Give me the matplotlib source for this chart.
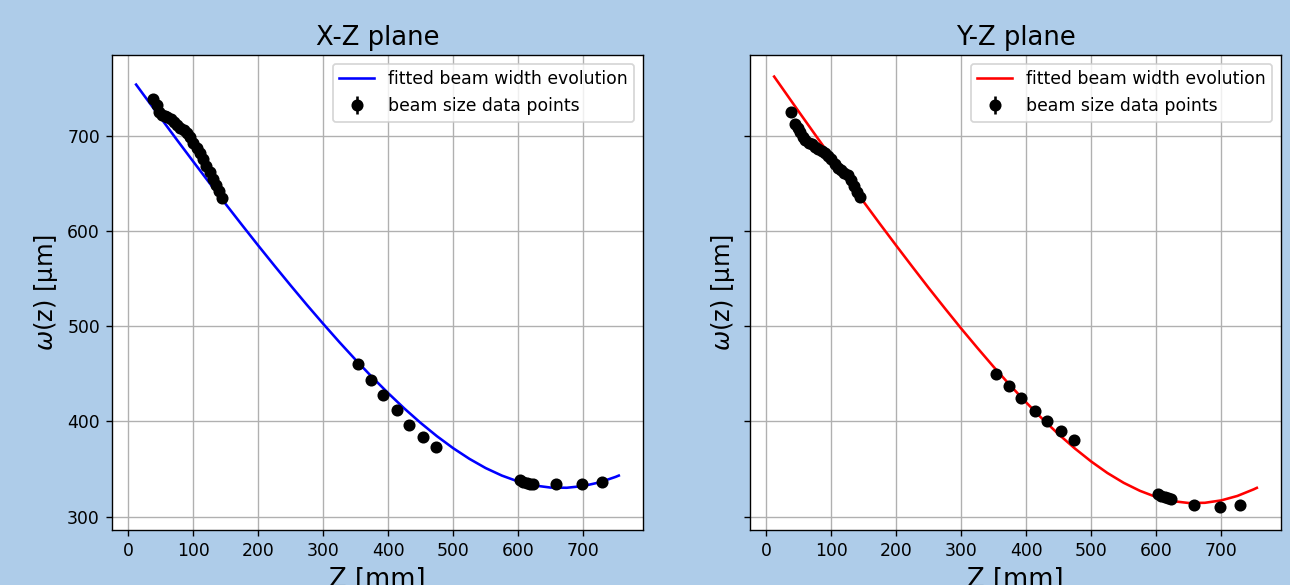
import numpy as np
import matplotlib.pyplot as plt

# measurement positions along the beam [mm]
z_points = [38, 44, 48, 52, 56, 60, 65, 70, 75, 80, 85, 90, 95, 100, 105, 110,
            115, 120, 125, 130, 135, 140, 144,
            354, 373, 392, 414, 432, 454, 473,
            603, 608, 613, 618, 623, 658, 699, 729]

# measured beam radius [um]
w_x_points = [739, 732, 725, 722, 720.5, 719.5, 718, 714.5, 711, 707.7, 706, 702.5,
              699, 692.5, 687, 682, 675.5, 668.5, 662, 655, 648, 641.5, 634.5,
              460.7, 443.9, 427.9, 411.4, 396.4, 383.8, 372.6,
              338, 336.3, 334.9, 334.6, 334.6, 334.2, 334.2, 336.3]
w_y_points = [725, 712, 707.8, 703.5, 698.8, 696, 692.8, 690.8, 688.5, 686.2, 683.9, 681.7,
              679.2, 675.8, 670, 666, 663.8, 661.3, 658.8, 653, 646.8, 640.5, 636,
              449.5, 436.9, 424, 411.1, 399.9, 389.4, 380.3,
              323.4, 321.6, 320.5, 319.2, 318.1, 312.2, 310.5, 312.2]
w_err = [2] * len(z_points)

# fitted curves
z_fit = [12, 25, 50, 75, 100, 125, 150, 175, 200, 225, 250, 275, 300, 325, 350, 375,
         400, 425, 450, 475, 500, 525, 550, 575, 600, 625, 650, 675, 700, 725, 750, 755]
w_x_fit = [753.7, 741.6, 718.5, 695.5, 672.8, 650.3, 628.1, 606.2, 584.6, 563.4, 542.6,
           522.2, 502.4, 483.1, 464.5, 446.6, 429.6, 413.4, 398.3, 384.4, 371.8, 360.6,
           350.9, 343.0, 336.8, 332.6, 330.4, 330.2, 332.0, 335.8, 341.6, 343.0]
w_y_fit = [762.1, 749.5, 725.2, 701.2, 677.3, 653.7, 630.3, 607.2, 584.5, 562.1, 540.0,
           518.5, 497.4, 477.0, 457.1, 438.0, 419.8, 402.5, 386.3, 371.4, 357.8, 345.7,
           335.4, 327.0, 320.5, 316.2, 314.2, 314.4, 316.9, 321.6, 328.5, 330.1]

dpi = 124
fig = plt.figure(figsize=(1290 / dpi, 585 / dpi), dpi=dpi, facecolor='#aecce9')
ax1 = fig.add_axes([0.0868, 0.094, 0.4116, 0.812])
ax2 = fig.add_axes([0.5814, 0.094, 0.4116, 0.812], sharey=ax1)

panels = [(ax1, w_x_fit, w_x_points, 'blue', 'X-Z plane'),
          (ax2, w_y_fit, w_y_points, 'red', 'Y-Z plane')]
for ax, fit, pts, col, title in panels:
    ax.plot(z_fit, fit, color=col, label='fitted beam width evolution')
    ax.errorbar(z_points, pts, yerr=w_err, fmt='o', color='black',
                label='beam size data points')
    ax.set_title(title, fontsize=15)
    ax.set_xlabel('Z [mm]', fontsize=15)
    ax.set_ylabel(r'$\omega$(z) [μm]', fontsize=14)
    ax.grid(True)
    ax.legend(loc='upper right', fontsize=10)
    ax.tick_params(labelsize=10)

plt.setp(ax2.get_yticklabels(), visible=False)

plt.savefig('out.png', dpi=dpi, facecolor=fig.get_facecolor())
